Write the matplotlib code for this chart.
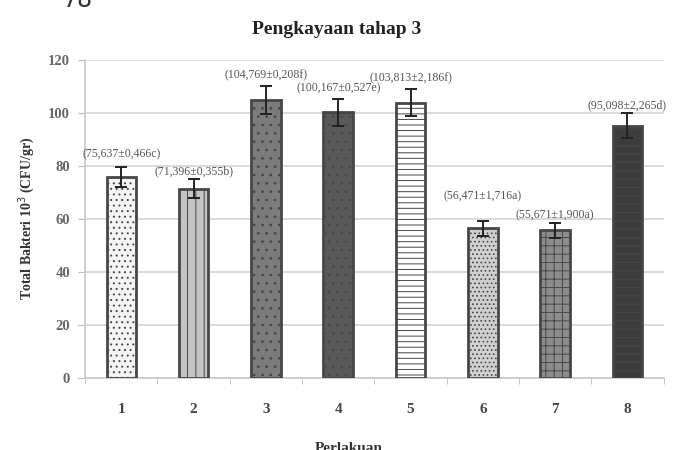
import numpy as np
import matplotlib
matplotlib.use("Agg")
import matplotlib.pyplot as plt

# Perlakuan 1-8, total bakteri (x 10^3 CFU/gr)
treatments = ["1", "2", "3", "4", "5", "6", "7", "8"]
means = [75.637, 71.396, 104.769, 100.167, 103.813, 56.471, 55.671, 95.098]
sds = ["0,466", "0,355", "0,208", "0,527", "2,186", "1,716", "1,900", "2,265"]
letters = ["c", "b", "f", "e", "f", "a", "a", "d"]
err_pct = 0.05  # error bars shown as 5 % of the mean

# bar styling
faces = ["#f4f4f4", "#c4c4c4", "#7c7c7c", "#595959", "#ffffff", "#cfcfcf", "#8c8c8c", "#3c3c3c"]
hatches = ["...", "||", "..", "..", "---", "....", "++", "--"]
hatch_cols = ["#cccccc", "#a8a8a8", "#a4a4a4", "#3e3e3e", "#9a9a9a", "#b0b0b0", "#6a6a6a", "#6e6e6e"]
label_pad = [5, 3, 4, 4, 4, 9, 3, 3]  # value units above the error bar cap

plt.rcParams["font.family"] = ["Liberation Serif", "DejaVu Serif"]
plt.rcParams["hatch.linewidth"] = 0.7

fig = plt.figure(figsize=(6.87, 4.50), dpi=100)
ax = fig.add_axes([0.124, 0.161, 0.842, 0.706])

x = np.arange(len(treatments))
errs = [m * err_pct for m in means]

for i in range(len(x)):
    plt.rcParams["hatch.color"] = hatch_cols[i]
    ax.bar(x[i], means[i], width=0.41, color=faces[i], edgecolor="#474747",
           linewidth=2, hatch=hatches[i], zorder=3)
ax.errorbar(x, means, yerr=errs, fmt="none", ecolor="#222222",
            elinewidth=1.4, capsize=4, capthick=1.4, zorder=4)

for i in range(len(x)):
    ax.text(x[i], means[i] + errs[i] + label_pad[i],
            "(%s±%s%s)" % (f"{means[i]:.3f}".replace(".", ","), sds[i], letters[i]),
            ha="center", va="center", fontsize=8.5, color="#555555", zorder=5)

ax.set_xlim(-0.5, len(x) - 0.5)
ax.set_ylim(0, 120)
ax.set_yticks(range(0, 121, 20))
ax.set_xticks(x)
ax.set_xticklabels(treatments, fontsize=11, fontweight="bold", color="#444444")
ax.set_xticks(np.arange(-0.5, len(x)), minor=True)
ax.tick_params(axis="x", which="major", length=0, pad=18)
ax.tick_params(axis="x", which="minor", length=4, color="#bbbbbb", direction="out")
ax.tick_params(axis="y", length=5, color="#bbbbbb", labelsize=10.5,
               labelcolor="#666666", pad=6)
for lab in ax.get_yticklabels():
    lab.set_fontweight("bold")

ax.grid(axis="y", color="#d4d4d4", linewidth=1.2, zorder=0)
ax.set_axisbelow(True)
for side in ["top", "right"]:
    ax.spines[side].set_visible(False)
for side in ["left", "bottom"]:
    ax.spines[side].set_color("#c8c8c8")
    ax.spines[side].set_linewidth(1.2)

ax.set_ylabel("Total Bakteri 10$^{3}$ (CFU/gr)", fontsize=10, fontweight="bold",
              color="#333333", labelpad=8)
ax.set_xlabel("Perlakuan", fontsize=11, fontweight="bold", color="#333333",
              labelpad=19, x=0.455)
fig.text(0.49, 0.935, "Pengkayaan tahap 3", ha="center", va="center",
         fontsize=14, fontweight="bold", color="#222222")
fig.text(0.113, 1.0, "78", ha="center", va="center", fontsize=17,
         family="DejaVu Sans", color="#333333")

fig.savefig("out.png", dpi=100)
